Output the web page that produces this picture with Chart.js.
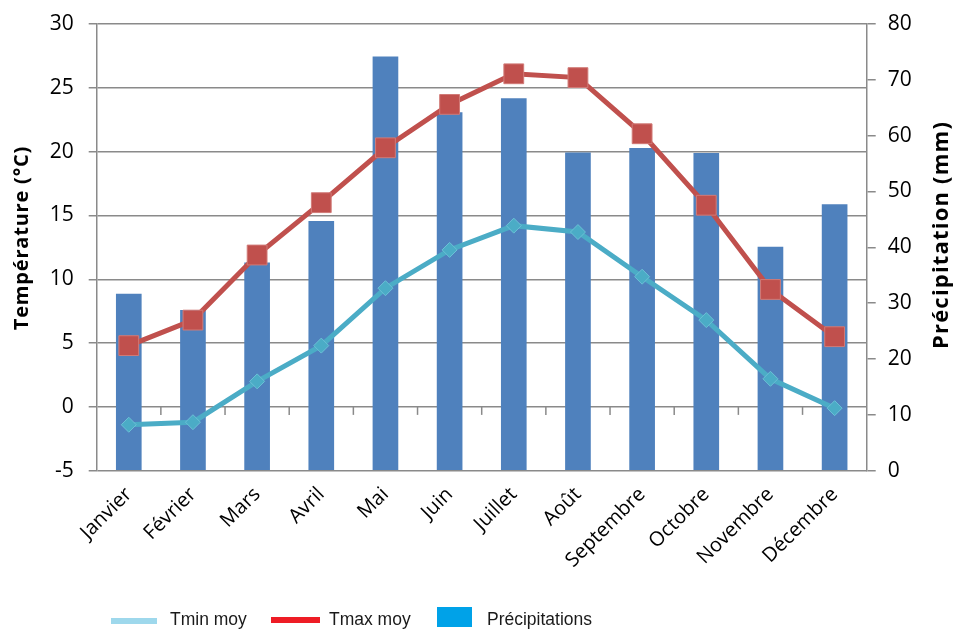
<!DOCTYPE html>
<html>
<head>
<meta charset="utf-8">
<script src="https://cdn.jsdelivr.net/npm/chart.js@4.4.0/dist/chart.umd.min.js"></script>
<style>
html,body{margin:0;padding:0;background:#fff;}
#wrap{width:957px;height:629px;position:relative;}
</style>
</head>
<body>
<div id="wrap"><canvas id="c"></canvas></div>
<script>
const months = ['Janvier','Février','Mars','Avril','Mai','Juin','Juillet','Août','Septembre','Octobre','Novembre','Décembre'];
const tmin = [-1.4, -1.2, 2.0, 4.8, 9.3, 12.3, 14.2, 13.7, 10.2, 6.8, 2.2, -0.1];
const tmax = [4.8, 6.8, 11.9, 16.0, 20.3, 23.7, 26.1, 25.8, 21.4, 15.8, 9.2, 5.5];
const precip = [31.7, 28.8, 37.3, 44.7, 74.2, 64.2, 66.7, 57.0, 57.8, 56.9, 40.1, 47.7];
const tempTicks = {min: -5, max: 30, step: 5};
const precipTicks = {min: 0, max: 80, step: 10};
const legendItems = ['Tmin moy', 'Tmax moy', 'Précipitations'];
const axisTitles = ['Température (°C)', 'Précipitation (mm)'];

const GRID = '#8a8a8a';
const tickFont = {family: 'Open Sans', size: 21};

const extras = {
  id: 'extras',
  afterDraw(chart) {
    const ctx = chart.ctx;
    const x = chart.scales.x, y = chart.scales.y;
    const y0 = y.getPixelForValue(0);
    ctx.save();
    ctx.strokeStyle = GRID;
    ctx.lineWidth = 1.5;
    const n = months.length;
    for (let i = 1; i < n; i++) {
      const px = (x.getPixelForValue(i - 1) + x.getPixelForValue(i)) / 2;
      ctx.beginPath();
      ctx.moveTo(px, y0);
      ctx.lineTo(px, y0 + 8);
      ctx.stroke();
    }
    // axis titles
    ctx.fillStyle = '#000';
    ctx.textAlign = 'center';
    ctx.textBaseline = 'middle';
    ctx.save();
    ctx.font = 'bold 20px "Open Sans"';
    ctx.letterSpacing = '0.8px';
    ctx.translate(22, 238);
    ctx.rotate(-Math.PI / 2);
    ctx.fillText(axisTitles[0], 0, 0);
    ctx.restore();
    ctx.save();
    ctx.font = 'bold 22px "Open Sans"';
    ctx.letterSpacing = '1.2px';
    ctx.translate(942, 235);
    ctx.rotate(-Math.PI / 2);
    ctx.fillText(axisTitles[1], 0, 0);
    ctx.restore();
    // legend
    const ly = 621;
    ctx.lineCap = 'butt';
    ctx.lineWidth = 6;
    ctx.strokeStyle = '#9ED8EC';
    ctx.beginPath(); ctx.moveTo(111, ly); ctx.lineTo(157, ly); ctx.stroke();
    ctx.strokeStyle = '#EE1C25';
    ctx.beginPath(); ctx.moveTo(271, ly - 1); ctx.lineTo(320, ly - 1); ctx.stroke();
    ctx.fillStyle = '#00A2E8';
    ctx.fillRect(437, 607, 35, 20);
    ctx.fillStyle = '#1a1a1a';
    ctx.font = '17.5px "Liberation Sans"';
    ctx.textAlign = 'left';
    ctx.textBaseline = 'alphabetic';
    ctx.fillText(legendItems[0], 170, 625);
    ctx.fillText(legendItems[1], 329, 625);
    ctx.fillText(legendItems[2], 487, 625);
    ctx.restore();
  }
};

new Chart(document.getElementById('c'), {
  type: 'bar',
  data: {
    labels: months,
    datasets: [
      {
        type: 'line', label: legendItems[0], data: tmin, yAxisID: 'y', order: 1,
        borderColor: '#4BACC6', borderWidth: 5, backgroundColor: '#4BACC6',
        pointStyle: 'rectRot', pointRadius: 7.5, pointBorderColor: '#6cc0d6', pointBorderWidth: 1,
        pointBackgroundColor: '#4BACC6', tension: 0
      },
      {
        type: 'line', label: legendItems[1], data: tmax, yAxisID: 'y', order: 0,
        borderColor: '#C0504D', borderWidth: 5, backgroundColor: '#C0504D',
        pointStyle: 'rect', pointRadius: 14, pointBorderColor: '#d17a77', pointBorderWidth: 1,
        pointBackgroundColor: '#C0504D', tension: 0
      },
      {
        type: 'bar', label: legendItems[2], data: precip, yAxisID: 'y1', order: 3,
        backgroundColor: '#4F81BD', borderWidth: 0,
        barPercentage: 0.4, categoryPercentage: 1
      }
    ]
  },
  options: {
    responsive: true, maintainAspectRatio: false, animation: false,
    layout: {padding: {top: 24, left: 0, right: 0, bottom: 0}},
    plugins: {legend: {display: false}, tooltip: {enabled: false}},
    scales: {
      x: {
        grid: {display: false, drawTicks: false},
        border: {display: false},
        ticks: {font: {family: 'Open Sans', size: 20}, color: '#000', maxRotation: 45, minRotation: 45, padding: 12, autoSkip: false},
        afterFit(s) { s.height = 158.3; s.paddingLeft = 0; s.paddingRight = 0; }
      },
      y: {
        position: 'left', min: tempTicks.min, max: tempTicks.max,
        ticks: {stepSize: tempTicks.step, font: tickFont, color: '#000', padding: 15},
        grid: {color: GRID, lineWidth: 1.5, tickLength: 8},
        border: {color: GRID, width: 1.5},
        afterFit(s) { s.width = 96.7; s.paddingTop = 0; s.paddingBottom = 0; }
      },
      y1: {
        position: 'right', min: precipTicks.min, max: precipTicks.max,
        ticks: {stepSize: precipTicks.step, font: tickFont, color: '#000', padding: 12},
        grid: {drawOnChartArea: false, color: GRID, lineWidth: 1.5, tickLength: 9},
        border: {color: GRID, width: 1.5},
        afterFit(s) { s.width = 90.3; s.paddingTop = 0; s.paddingBottom = 0; }
      }
    }
  },
  plugins: [extras]
});
</script>
</body>
</html>
